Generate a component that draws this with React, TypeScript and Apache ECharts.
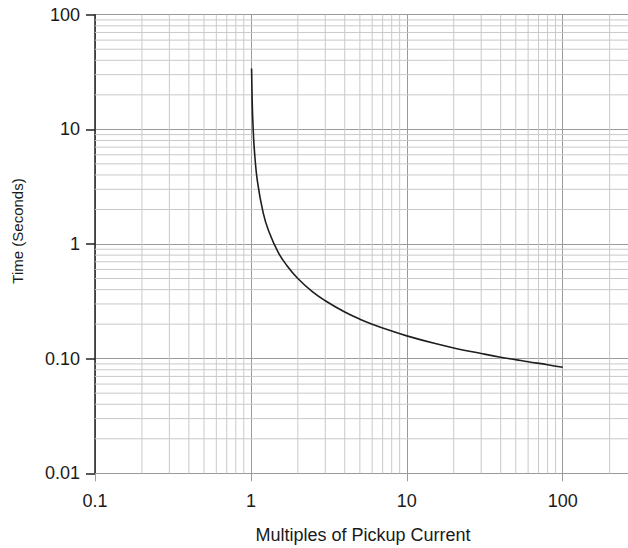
import { useEffect, useRef } from 'react';
import * as echarts from 'echarts';

// Curve (multiples of pickup current vs. time in seconds)
const multiples = [1.01, 1.02, 1.03, 1.05, 1.1, 1.2, 1.3, 1.5, 1.7, 2, 2.5, 3, 4, 5, 6, 8, 10, 15, 20, 30, 40, 50, 60, 80, 100];
const timeSeconds = [34, 17, 11.4, 6.9, 3.55, 1.86, 1.3, 0.84, 0.65, 0.5, 0.38, 0.32, 0.255, 0.221, 0.2, 0.174, 0.158, 0.136, 0.124, 0.111, 0.103, 0.098, 0.094, 0.0886, 0.084];

// Axis range (x runs past the visible edge, as in the reference)
const xRange = [0.1, 1000];
const yRange = [0.01, 100];

// Tick values and labels
const xTickValues = [0.1, 1, 10, 100];
const xTickLabels = ['0.1', '1', '10', '100'];
const yTickValues = [0.01, 0.1, 1, 10, 100];
const yTickLabels = ['0.01', '0.10', '1', '10', '100'];

// Minor grid values (2..9 within each decade)
const xMinor = [
  0.2, 0.3, 0.4, 0.5, 0.6, 0.7, 0.8, 0.9,
  2, 3, 4, 5, 6, 7, 8, 9,
  20, 30, 40, 50, 60, 70, 80, 90,
  200, 300, 400, 500, 600, 700, 800, 900,
];
const yMinor = [
  0.02, 0.03, 0.04, 0.05, 0.06, 0.07, 0.08, 0.09,
  0.2, 0.3, 0.4, 0.5, 0.6, 0.7, 0.8, 0.9,
  2, 3, 4, 5, 6, 7, 8, 9,
  20, 30, 40, 50, 60, 70, 80, 90,
];

const xTitle = 'Multiples of Pickup Current';
const yTitle = 'Time (Seconds)';

const FONT = '"Liberation Sans", Arial, sans-serif';

function lookup(values: number[], labels: string[], v: number) {
  for (let i = 0; i < values.length; i++) {
    if (Math.abs(Math.log10(v) - Math.log10(values[i])) < 1e-6) return labels[i];
  }
  return '';
}

export default function App() {
  const ref = useRef<HTMLDivElement>(null);
  useEffect(() => {
    const chart = echarts.init(ref.current!, null, { renderer: 'svg' });
    const [X_MIN, X_MAX] = xRange;
    const [Y_MIN, Y_MAX] = yRange;
    chart.setOption({
      animation: false,
      grid: {
        left: 95,
        top: 14.7,
        width: 623.6,
        height: 458.6,
        containLabel: false,
        outerBoundsMode: 'none',
      },
      xAxis: {
        type: 'log',
        logBase: 10,
        min: X_MIN,
        max: X_MAX,
        axisLine: { show: true, lineStyle: { color: '#9a9a9a', width: 1 } },
        axisTick: { show: true, length: 8, lineStyle: { color: '#9a9a9a', width: 1 } },
        axisLabel: {
          margin: 19,
          fontSize: 18,
          color: '#1a1a1a',
          fontFamily: FONT,
          showMaxLabel: false,
          formatter: (v: number) => lookup(xTickValues, xTickLabels, v),
        },
        splitLine: { show: true, lineStyle: { color: '#9a9a9a', width: 1 } },
      },
      yAxis: {
        type: 'log',
        logBase: 10,
        min: Y_MIN,
        max: Y_MAX,
        axisLine: { show: true, lineStyle: { color: '#222', width: 1.5 } },
        axisTick: { show: true, length: 9, lineStyle: { color: '#222', width: 1.5 } },
        axisLabel: {
          margin: 15,
          fontSize: 18,
          color: '#1a1a1a',
          fontFamily: FONT,
          formatter: (v: number) => lookup(yTickValues, yTickLabels, v),
        },
        splitLine: { show: true, lineStyle: { color: '#9a9a9a', width: 1 } },
      },
      graphic: [
        {
          type: 'text',
          x: 363,
          y: 535,
          style: {
            text: xTitle,
            fill: '#1a1a1a',
            font: `18px ${FONT}`,
            align: 'center',
            verticalAlign: 'middle',
          },
        },
        {
          type: 'text',
          x: 17,
          y: 231,
          rotation: Math.PI / 2,
          style: {
            text: yTitle,
            fill: '#1a1a1a',
            font: `15px ${FONT}`,
            align: 'center',
            verticalAlign: 'middle',
          },
        },
      ],
      series: [
        {
          type: 'custom',
          coordinateSystem: 'cartesian2d',
          silent: true,
          z: 1,
          data: xMinor.map((v) => [v, 1]),
          renderItem: (_p: any, api: any) => {
            const v = api.value(0);
            const a = api.coord([v, Y_MAX]);
            const b = api.coord([v, Y_MIN]);
            return {
              type: 'line',
              shape: { x1: a[0], y1: a[1], x2: b[0], y2: b[1] },
              style: { stroke: '#c9c9c9', lineWidth: 1 },
            };
          },
        },
        {
          type: 'custom',
          coordinateSystem: 'cartesian2d',
          silent: true,
          z: 1,
          data: yMinor.map((v) => [1, v]),
          renderItem: (_p: any, api: any) => {
            const v = api.value(1);
            const a = api.coord([X_MIN, v]);
            const b = api.coord([X_MAX, v]);
            return {
              type: 'line',
              shape: { x1: a[0], y1: a[1], x2: b[0], y2: b[1] },
              style: { stroke: '#c9c9c9', lineWidth: 1 },
            };
          },
        },
        {
          type: 'line',
          z: 5,
          data: multiples.map((m, i) => [m, timeSeconds[i]]),
          showSymbol: false,
          smooth: 0.4,
          lineStyle: { color: '#1e1e1e', width: 1.6 },
        },
      ],
    });
    return () => chart.dispose();
  }, []);
  return (
    <div
      style={{
        position: 'absolute',
        left: 0,
        top: 0,
        width: 628,
        height: 548,
        overflow: 'hidden',
        background: '#fff',
      }}
    >
      <div ref={ref} style={{ width: 720, height: 548 }} />
    </div>
  );
}
